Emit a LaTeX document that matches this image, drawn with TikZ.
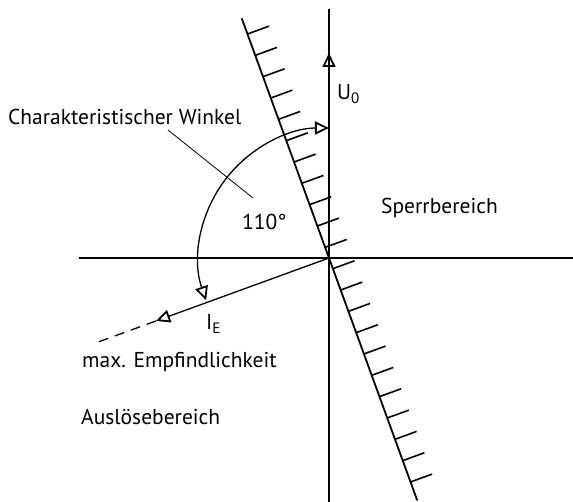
\documentclass[tikz,border=0pt]{standalone}
\usepackage{fontspec}
\setmainfont{PT Sans}
\usepackage{tikz}
\usetikzlibrary{arrows.meta,positioning,calc}
\tikzset{
    every node/.style={font=\fontsize{21.5}{24}\selectfont, inner sep=0pt},
    axisline/.style={line width=1.3pt, black},
    hatchline/.style={line width=1.8pt, black},
    hatchtick/.style={line width=1.6pt, black},
    opentip/.style={-{Triangle[open, length=14pt, width=13pt, line width=1.8pt]}},
    leaderline/.style={line width=0.8pt, black},
    lbl/.style={anchor=base west, text=black},
}

\begin{document}
\begin{tikzpicture}[x=1pt,y=1pt]
    \useasboundingbox (-329,-244) rectangle (244,258);

    % Axes
    \coordinate (O) at (0,0);
    \coordinate (hleft) at (-250,0);
    \coordinate (hright) at (244,0);
    \coordinate (vtop) at (0,249);
    \coordinate (vbot) at (0,-244);
    \draw[axisline] (hleft) -- (hright);
    \draw[axisline] (vbot) -- (vtop);

    % U0 pointer
    \coordinate (utip) at (0,205);
    \draw[axisline, opentip] (O) -- (utip);

    % Boundary line with hatching
    \coordinate (htop) at (110:255);
    \coordinate (hbot) at (290:258);
    \draw[hatchline] (hbot) -- (htop);
    \foreach \k in {0,...,10}{
        \pgfmathsetmacro\r{(\k+0.5)*22.7}
        \draw[hatchtick] (110:\r) -- ++(20:23);
        \draw[hatchtick] (290:\r) -- ++(20:23);
    }

    % I_E pointer
    \coordinate (ietip) at (200:184);
    \coordinate (iedash) at (200:246);
    \draw[axisline, opentip] (O) -- (ietip);
    \draw[axisline, dash pattern=on 10pt off 7pt] (ietip) -- (iedash);

    % Angle arc
    \coordinate (arcstart) at (199:130);
    \draw[axisline, {Triangle[open, length=14pt, width=13pt, line width=1.8pt]}-{Triangle[open, length=14pt, width=13pt, line width=1.8pt]}]
        (arcstart) arc[start angle=199, end angle=90, radius=130];

    % Labels
    \node[lbl] (winkel) at (-321,133) {Charakteristischer Winkel};
    \coordinate (leadstart) at (-161,128);
    \coordinate (leadend) at (-76,60);
    \draw[leaderline] (leadstart) -- (leadend);
    \node[lbl] (winkelwert) at (-87,28) {110°};
    \node[lbl] (uzero) at (8,158) {U\textsubscript{0}};
    \node[lbl] (sperr) at (52,44) {Sperrbereich};
    \node[lbl] (ie) at (-123,-72) {I\textsubscript{E}};
    \node[lbl] (maxempf) at (-247,-110) {max. Empfindlichkeit};
    \node[lbl] (ausloese) at (-248,-167) {Auslösebereich};
\end{tikzpicture}
\end{document}
